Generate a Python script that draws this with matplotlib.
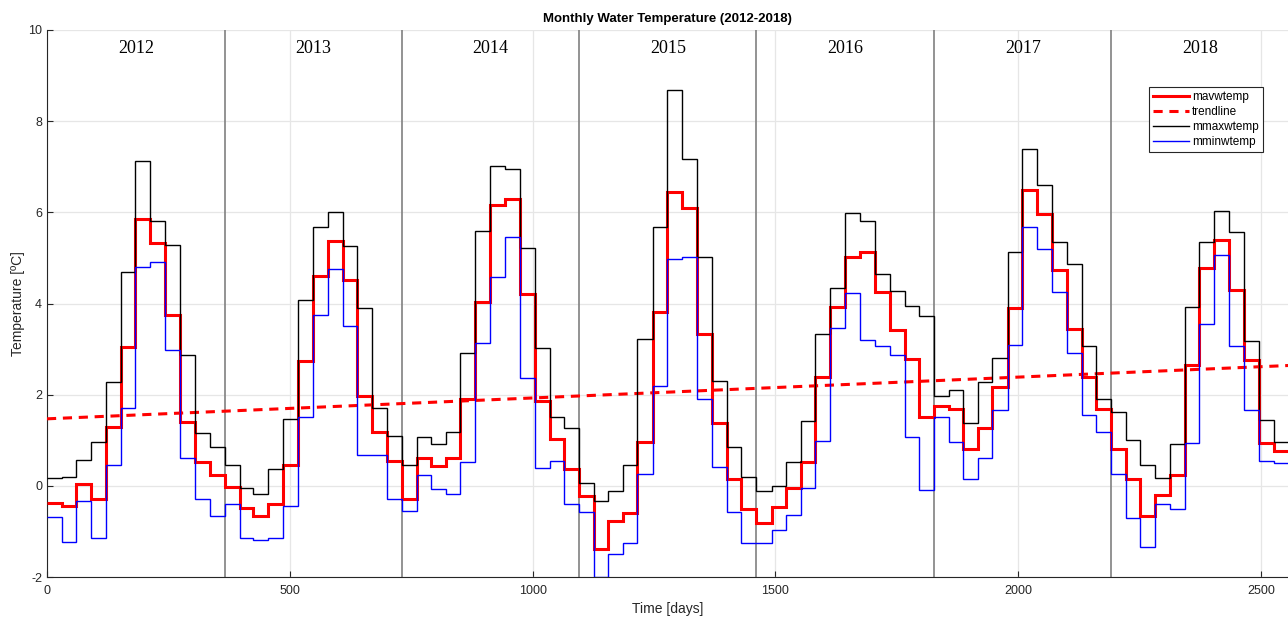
import numpy as np
import pandas as pd
from matplotlib import pyplot as plt

# monthly values 2012-2018
years = ['2012', '2013', '2014', '2015', '2016', '2017', '2018']

mavwtemp = [
    -0.38, -0.44, 0.04, -0.29, 1.30, 3.05, 5.86, 5.32, 3.75, 1.40, 0.53, 0.24,
    -0.03, -0.49, -0.66, -0.39, 0.46, 2.74, 4.61, 5.37, 4.52, 1.98, 1.18, 0.55,
    -0.29, 0.61, 0.44, 0.62, 1.90, 4.04, 6.16, 6.29, 4.21, 1.87, 1.02, 0.37,
    -0.22, -1.39, -0.77, -0.60, 0.97, 3.81, 6.45, 6.09, 3.33, 1.37, 0.15, -0.51,
    -0.82, -0.47, -0.04, 0.53, 2.38, 3.92, 5.01, 5.12, 4.25, 3.41, 2.79, 1.52,
    1.76, 1.68, 0.81, 1.26, 2.16, 3.91, 6.48, 5.96, 4.74, 3.44, 2.38, 1.68,
    0.81, 0.15, -0.67, -0.20, 0.23, 2.66, 4.77, 5.39, 4.30, 2.76, 0.94, 0.77,
]
mmaxwtemp = [
    0.17, 0.20, 0.57, 0.97, 2.27, 4.70, 7.13, 5.80, 5.28, 2.86, 1.17, 0.86,
    0.45, -0.04, -0.18, 0.37, 1.46, 4.08, 5.67, 6.00, 5.27, 3.91, 1.70, 1.10,
    0.45, 1.07, 0.92, 1.18, 2.92, 5.60, 7.02, 6.95, 5.21, 3.02, 1.51, 1.26,
    0.06, -0.34, -0.12, 0.46, 3.22, 5.67, 8.68, 7.16, 5.03, 2.31, 0.86, 0.20,
    -0.11, 0.00, 0.52, 1.43, 3.33, 4.33, 5.99, 5.82, 4.64, 4.28, 3.95, 3.73,
    1.97, 2.11, 1.37, 2.27, 2.80, 5.12, 7.40, 6.60, 5.36, 4.87, 3.07, 1.91,
    1.62, 1.01, 0.45, 0.17, 0.91, 3.92, 5.36, 6.02, 5.56, 3.17, 1.45, 0.96,
]
mminwtemp = [
    -0.69, -1.24, -0.34, -1.15, 0.46, 1.70, 4.81, 4.90, 2.97, 0.61, -0.29, -0.66,
    -0.40, -1.15, -1.18, -1.15, -0.44, 1.51, 3.75, 4.75, 3.51, 0.68, 0.68, -0.28,
    -0.55, 0.24, -0.07, -0.18, 0.52, 3.14, 4.59, 5.45, 2.36, 0.39, 0.55, -0.39,
    -0.58, -2.00, -1.49, -1.26, 0.26, 2.20, 4.98, 5.01, 1.90, 0.41, -0.58, -1.26,
    -1.26, -0.96, -0.65, -0.05, 0.99, 3.46, 4.23, 3.19, 3.06, 2.86, 1.08, -0.09,
    1.51, 0.96, 0.15, 0.61, 1.67, 3.08, 5.67, 5.19, 4.25, 2.91, 1.56, 1.19,
    0.26, -0.71, -1.35, -0.39, -0.50, 0.95, 3.55, 5.07, 3.06, 1.67, 0.55, 0.50,
]
# trendline end values (at day 0 and at the end of 2018)
trend_ends = [1.47, 2.64]

# month edges in days since 2012-01-01
months = pd.date_range('2012-01-01', periods=len(mavwtemp) + 1, freq='MS')
edges = (months - months[0]).days.values.astype(float)
year_starts = edges[::12]
xmax = edges[-1]

plt.rcParams['font.family'] = ['Liberation Sans', 'DejaVu Sans']
plt.rcParams['axes.unicode_minus'] = False
axcol = '#262626'

fig = plt.figure(figsize=(12.88, 6.18), dpi=100)
ax = fig.add_axes([47 / 1288, 1 - 577 / 618, xmax * 0.4856 / 1288, 547 / 618])

ax.stairs(mavwtemp, edges, baseline=None, color='red', lw=2.2, zorder=3, label='mavwtemp')
ax.plot([0, xmax], trend_ends, color='red', lw=2.2, ls=(0, (3, 2.2)), zorder=3, label='trendline')
ax.stairs(mmaxwtemp, edges, baseline=None, color='black', lw=1.0, zorder=4, label='mmaxwtemp')
ax.stairs(mminwtemp, edges, baseline=None, color='blue', lw=1.0, zorder=5, label='mminwtemp')

# year separators and labels
for i, yr in enumerate(years):
    if i > 0:
        ax.axvline(year_starts[i], color='#808080', lw=1.2, zorder=2)
    ax.text((year_starts[i] + year_starts[i + 1]) / 2, 9.6, yr, ha='center', va='center',
            fontsize=13, family=['Liberation Serif', 'DejaVu Serif'], color='black')

ax.set_xlim(0, xmax)
ax.set_ylim(-2, 10)
ax.set_xticks(np.arange(0, 2501, 500))
ax.set_yticks(np.arange(-2, 11, 2))
ax.grid(True, color='#e6e6e6', lw=0.9)
ax.set_axisbelow(True)
for s in ['top', 'right']:
    ax.spines[s].set_visible(False)
for s in ['left', 'bottom']:
    ax.spines[s].set_color(axcol)
    ax.spines[s].set_linewidth(0.8)
ax.tick_params(axis='both', direction='in', length=4, labelsize=9, colors=axcol, width=0.8)
ax.tick_params(axis='x', pad=6)

ax.set_title('Monthly Water Temperature (2012-2018)', fontsize=9.5, fontweight='bold', pad=6)
ax.set_xlabel('Time [days]', fontsize=10, color=axcol, labelpad=3)
ax.set_ylabel('Temperature [ºC]', fontsize=10, color=axcol, labelpad=2)

leg = ax.legend(loc='upper right', bbox_to_anchor=(1263 / 1288, 1 - 87 / 618),
                bbox_transform=fig.transFigure, fontsize=8.5, fancybox=False,
                framealpha=1, edgecolor='#262626', handlelength=3.0,
                borderpad=0.35, labelspacing=0.25, handletextpad=0.3, borderaxespad=0)
leg.get_frame().set_linewidth(0.8)

fig.savefig('out.png', dpi=100)
